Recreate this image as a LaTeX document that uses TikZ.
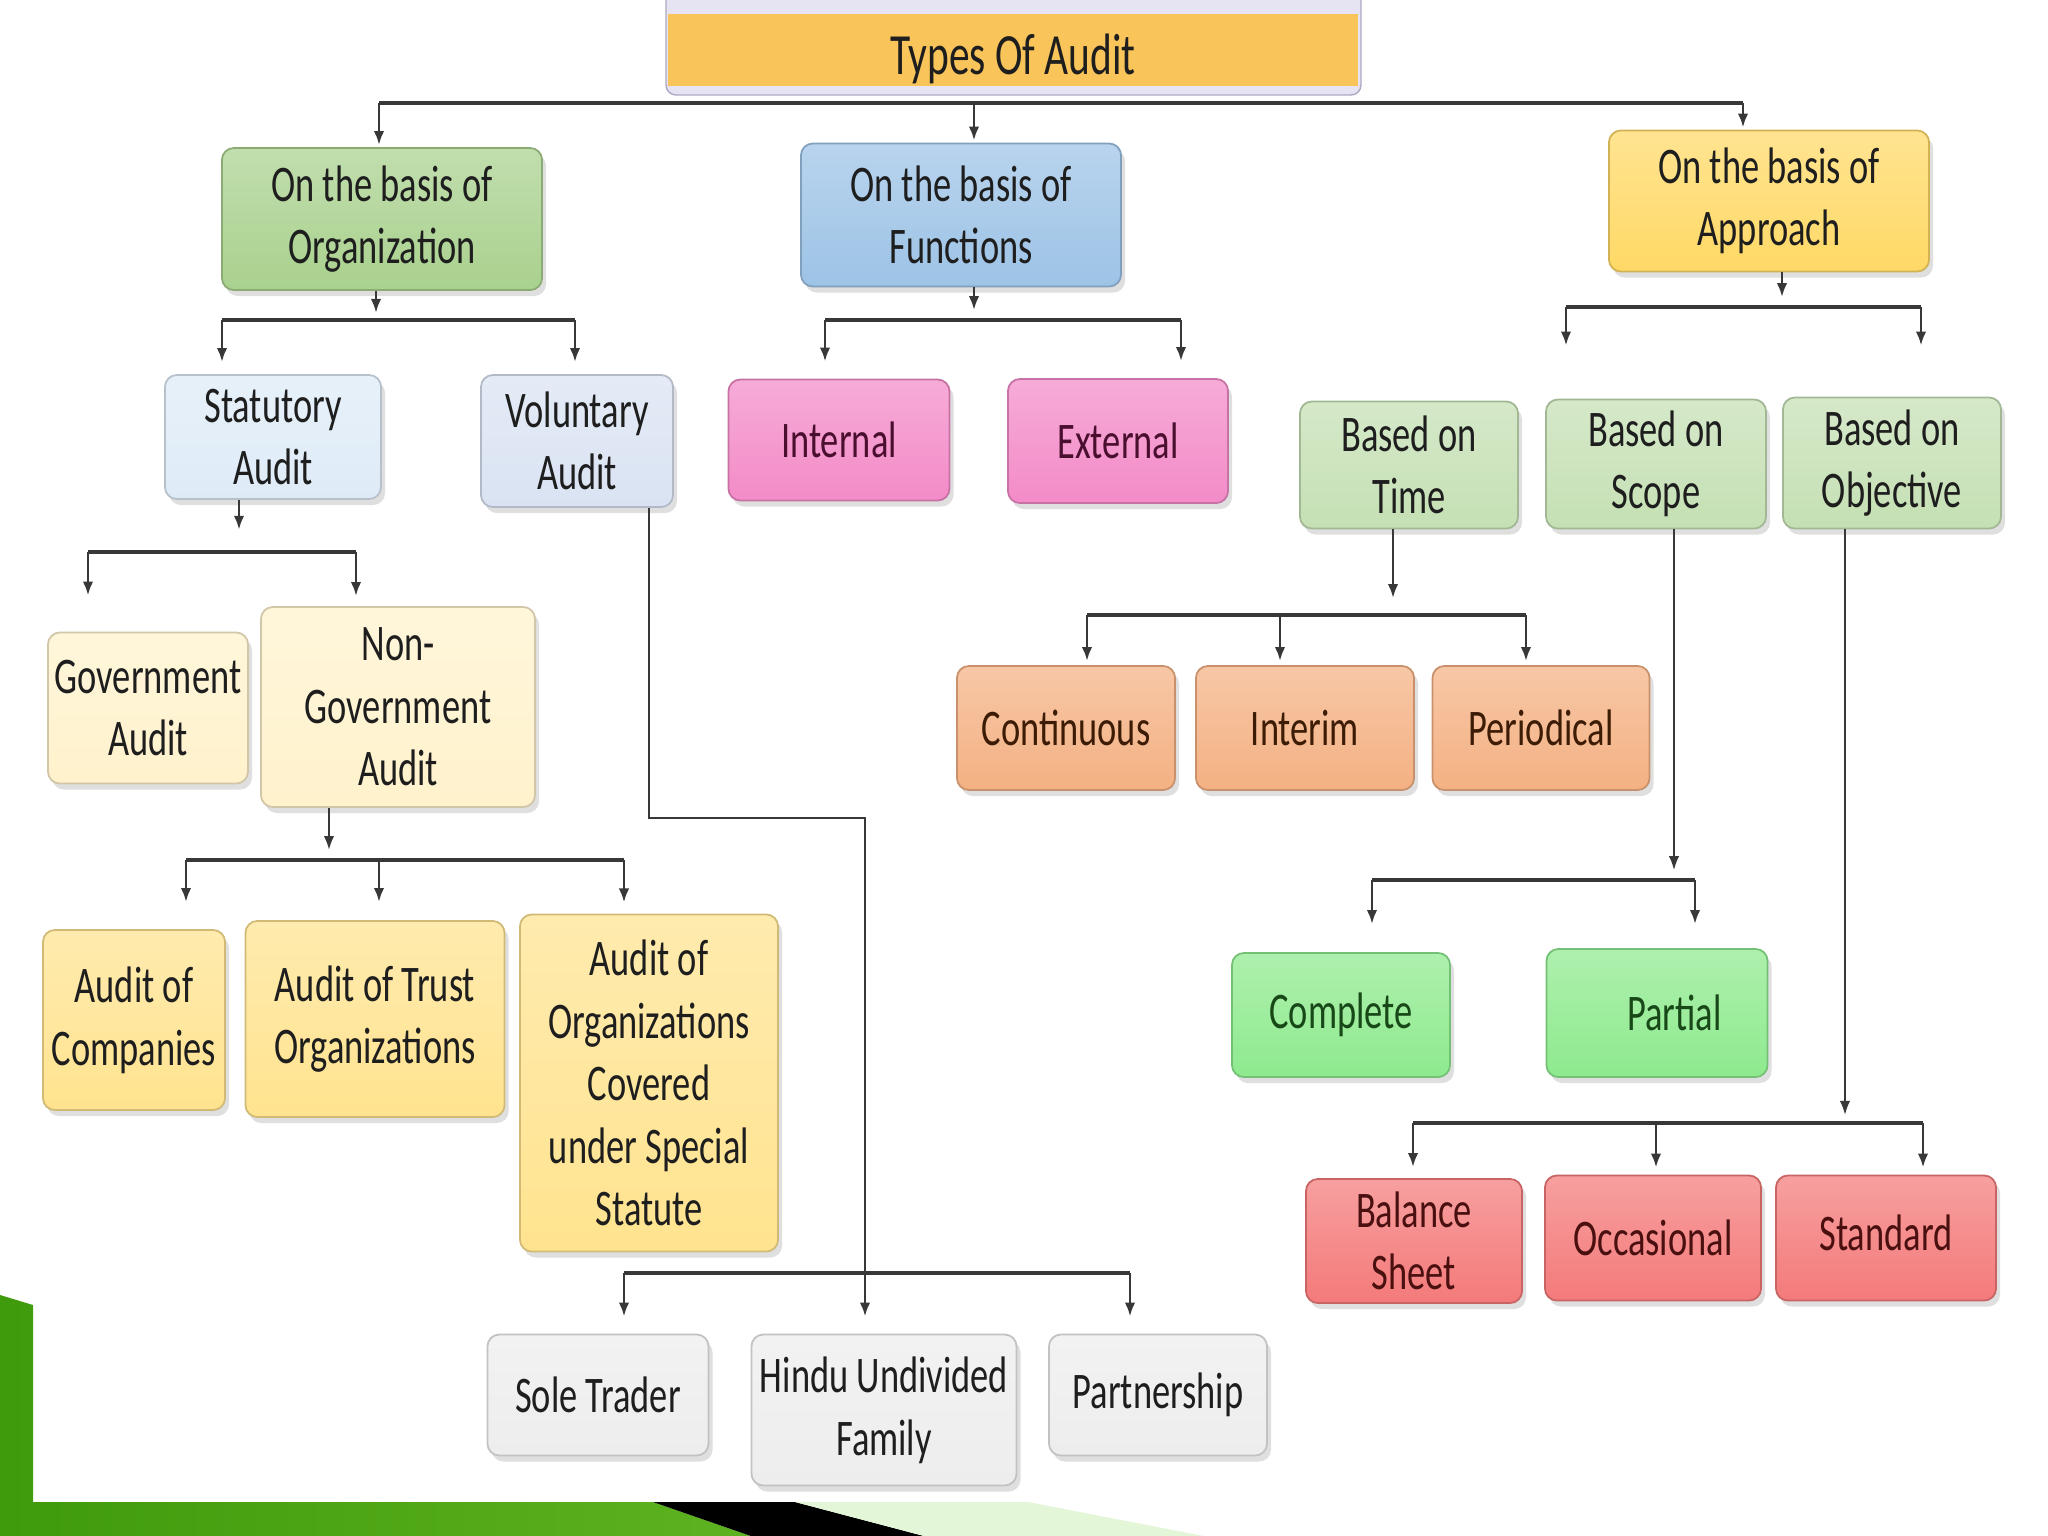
\documentclass[tikz,border=0pt]{standalone}
\usepackage{fontspec}
\newfontfamily\boxfont[FakeStretch=0.71]{Carlito}
\usetikzlibrary{arrows.meta,calc,shadows}
\definecolor{txt}{HTML}{1E1E1E}
\definecolor{lnk}{HTML}{383838}
\definecolor{titc}{HTML}{F9C55B}
\definecolor{lav}{HTML}{E6E4F3}
\definecolor{lavd}{HTML}{ACA9C4}
\definecolor{orgc}{HTML}{A9D18E}
\definecolor{funcc}{HTML}{9DC3E6}
\definecolor{apprc}{HTML}{FFD966}
\definecolor{statc}{HTML}{DEEBF7}
\definecolor{volc}{HTML}{DAE3F3}
\definecolor{pinkc}{HTML}{F38BC8}
\definecolor{basec}{HTML}{C5E0B4}
\definecolor{orngc}{HTML}{F4B183}
\definecolor{brgc}{HTML}{8EEA8E}
\definecolor{redc}{HTML}{F47A7A}
\definecolor{creamc}{HTML}{FFF2CC}
\definecolor{yelc}{HTML}{FFE38F}
\definecolor{grayc}{HTML}{EDEDED}
\definecolor{pinkt}{HTML}{4A0F2E}
\definecolor{redt}{HTML}{4A1010}
\definecolor{orngt}{HTML}{3D1C06}
\definecolor{brgt}{HTML}{184818}
\definecolor{grnA}{HTML}{3F9A0C}
\definecolor{grnB}{HTML}{8FEA5E}
\definecolor{grnC}{HTML}{5DB31F}
\definecolor{palegrn}{HTML}{E3F6D8}

\tikzset{
  box/.style={rounded corners=1.2mm, align=center, inner sep=0pt,
    font=\boxfont\fontsize{14.6}{17.8}\selectfont,
    drop shadow={opacity=0.25, shadow xshift=0.4mm, shadow yshift=-0.6mm}},
  kind/.style 2 args={box, top color=#1!72!white, bottom color=#1,
    draw=#1!82!black, line width=0.5pt, text=#2},
  sz/.style 2 args={minimum width=#1cm, minimum height=#2cm},
  link/.style={draw=lnk, line width=0.8pt, -{Latex[length=4pt,width=3pt]}},
  wire/.style={draw=lnk, line width=0.6pt},
  bus/.style={draw=lnk, line width=1.2pt},
}

\begin{document}
\begin{tikzpicture}[x=0.01cm, y=-0.01cm]
  \useasboundingbox (0,0) rectangle (2048,1536);
  \fill[white] (0,0) rectangle (2048,1536);

  % slide frame at the bottom
  \shade[left color=grnA, middle color=grnB, right color=grnC]
    (0,1295) -- (33,1305) -- (33,1502) -- (653,1502) -- (751,1536) -- (0,1536) -- cycle;
  \fill[black] (653,1502) -- (795,1502) -- (924,1536) -- (751,1536) -- cycle;
  \fill[palegrn] (795,1502) -- (1028,1502) -- (1204,1536) -- (924,1536) -- cycle;

  % title
  \filldraw[fill=lav, draw=lavd, rounded corners=1mm] (666,-12) rectangle (1361,95);
  \node[fill=titc, minimum width=6.89cm, minimum height=0.72cm, inner sep=0pt, text=txt,
    font=\boxfont\fontsize{16.6}{20}\selectfont] (title) at (1013,50)
    {\raisebox{-2.6pt}[\height][\depth]{Types Of Audit}};

  % first level
  \node[kind={orgc}{txt}, sz={3.2}{1.42}] (org) at (382,219) {On the basis of\\Organization};
  \node[kind={funcc}{txt}, sz={3.2}{1.43}] (func) at (961,215) {On the basis of\\Functions};
  \node[kind={apprc}{txt}, sz={3.2}{1.41}] (appr) at (1769,201) {On the basis of\\Approach};

  % second level
  \node[kind={statc}{txt}, sz={2.16}{1.24}] (stat) at (273,437) {Statutory\\Audit};
  \node[kind={volc}{txt}, sz={1.92}{1.32}] (vol) at (577,441) {Voluntary\\Audit};
  \node[kind={pinkc}{pinkt}, sz={2.21}{1.21}] (int) at (839,440) {Internal};
  \node[kind={pinkc}{pinkt}, sz={2.2}{1.24}] (ext) at (1118,441) {External};
  \node[kind={basec}{txt}, sz={2.18}{1.27}] (time) at (1409,465) {Based on\\Time};
  \node[kind={basec}{txt}, sz={2.2}{1.29}] (scope) at (1656,464) {Based on\\Scope};
  \node[kind={basec}{txt}, sz={2.18}{1.31}] (obj) at (1892,463) {Based on\\Objective};

  % approach branches
  \node[kind={orngc}{orngt}, sz={2.18}{1.24}] (cont) at (1066,728) {Continuous};
  \node[kind={orngc}{orngt}, sz={2.18}{1.24}] (inter) at (1305,728) {Interim};
  \node[kind={orngc}{orngt}, sz={2.17}{1.24}] (peri) at (1541,728) {Periodical};
  \node[kind={brgc}{brgt}, sz={2.18}{1.24}] (comp) at (1341,1015) {Complete};
  \node[kind={brgc}{brgt}, sz={2.21}{1.28}] (part) at (1657,1013) {\hspace{0.35cm}Partial};
  \node[kind={redc}{redt}, sz={2.16}{1.24}] (bal) at (1414,1241) {Balance\\Sheet};
  \node[kind={redc}{redt}, sz={2.16}{1.25}] (occ) at (1653,1238) {Occasional};
  \node[kind={redc}{redt}, sz={2.2}{1.25}] (std) at (1886,1238)
    {\raisebox{1.6pt}[\height][\depth]{Standard}};

  % organization branches
  \node[kind={creamc}{txt}, sz={2.0}{1.51}] (gov) at (148,708) {Government\\Audit};
  \node[kind={creamc}{txt}, sz={2.74}{2.0}] (ngov) at (398,707) {Non-\\Government\\Audit};
  \node[kind={yelc}{txt}, sz={1.82}{1.8}] (coms) at (134,1020) {Audit of\\Companies};
  \node[kind={yelc}{txt}, sz={2.59}{1.96}] (trust) at (375,1019) {Audit of Trust\\Organizations};
  \node[kind={yelc}{txt}, sz={2.58}{3.37}] (spec) at (649,1083) {Audit of\\Organizations\\Covered\\under Special\\Statute};
  \node[kind={grayc}{txt}, sz={2.21}{1.21}] (sole) at (598,1395) {Sole Trader};
  \node[kind={grayc}{txt}, sz={2.65}{1.51}] (huf) at (884,1410) {Hindu Undivided\\Family};
  \node[kind={grayc}{txt}, sz={2.18}{1.21}] (partn) at (1158,1395) {Partnership};

  % title -> first level
  \coordinate (bA) at (0,103);
  \foreach \n/\dx/\g [count=\i] in {org/-3/2, func/13/2, appr/-26/2}
    \coordinate (tA\i) at ($(\n.north)+(\dx,-\g)$);
  \draw[bus] (tA1 |- bA) -- (tA3 |- bA);
  \foreach \i in {1,2,3} \draw[link] (tA\i |- bA) -- (tA\i);

  % organization -> statutory, voluntary
  \coordinate (bB) at (0,320);
  \coordinate (sB) at ($(org.south)+(-6,0)$);
  \draw[link, shorten >=2pt] (sB) -- (sB |- bB);
  \foreach \n/\dx/\g [count=\i] in {stat/-51/12, vol/-2/12}
    \coordinate (tB\i) at ($(\n.north)+(\dx,-\g)$);
  \draw[bus] (tB1 |- bB) -- (tB2 |- bB);
  \foreach \i in {1,2} \draw[link] (tB\i |- bB) -- (tB\i);

  % functions -> internal, external
  \coordinate (bC) at (0,320);
  \coordinate (sC) at ($(func.south)+(13,0)$);
  \draw[link, shorten >=2.8pt] (sC) -- (sC |- bC);
  \foreach \n/\dx/\g [count=\i] in {int/-14/17, ext/63/17}
    \coordinate (tC\i) at ($(\n.north)+(\dx,-\g)$);
  \draw[bus] (tC1 |- bC) -- (tC2 |- bC);
  \foreach \i in {1,2} \draw[link] (tC\i |- bC) -- (tC\i);

  % approach -> based on ...
  \coordinate (bD) at (0,307);
  \coordinate (sD) at ($(appr.south)+(13,0)$);
  \draw[link, shorten >=2.8pt] (sD) -- (sD |- bD);
  \foreach \n/\dx/\g [count=\i] in {scope/-90/53, obj/29/51}
    \coordinate (tD\i) at ($(\n.north)+(\dx,-\g)$);
  \draw[bus] (tD1 |- bD) -- (tD2 |- bD);
  \foreach \i in {1,2} \draw[link] (tD\i |- bD) -- (tD\i);

  % statutory -> government, non-government
  \coordinate (bE) at (0,552);
  \coordinate (sE) at ($(stat.south)+(-34,0)$);
  \draw[link, shorten >=6.3pt] (sE) -- (sE |- bE);
  \foreach \n/\dx/\g [count=\i] in {gov/-60/36, ngov/-42/10}
    \coordinate (tE\i) at ($(\n.north)+(\dx,-\g)$);
  \draw[bus] (tE1 |- bE) -- (tE2 |- bE);
  \foreach \i in {1,2} \draw[link] (tE\i |- bE) -- (tE\i);

  % non-government -> audits of ...
  \coordinate (bF) at (0,860);
  \coordinate (sF) at ($(ngov.south)+(-69,0)$);
  \draw[link, shorten >=2.8pt] (sF) -- (sF |- bF);
  \foreach \n/\dx/\g [count=\i] in {coms/52/27, trust/4/18, spec/-25/11}
    \coordinate (tF\i) at ($(\n.north)+(\dx,-\g)$);
  \draw[bus] (tF1 |- bF) -- (tF3 |- bF);
  \foreach \i in {1,2,3} \draw[link] (tF\i |- bF) -- (tF\i);

  % voluntary -> sole trader, HUF, partnership
  \coordinate (bG) at (0,1273);
  \foreach \n/\dx/\g [count=\i] in {sole/26/17, huf/-19/17, partn/-28/17}
    \coordinate (tG\i) at ($(\n.north)+(\dx,-\g)$);
  \coordinate (sG) at ($(vol.south)+(72,0)$);
  \draw[wire] (sG) -- ++(0,310) -| (tG2 |- bG);
  \draw[bus] (tG1 |- bG) -- (tG3 |- bG);
  \foreach \i in {1,2,3} \draw[link] (tG\i |- bG) -- (tG\i);

  % time -> continuous, interim, periodical
  \coordinate (bH) at (0,615);
  \coordinate (sH) at ($(time.south)+(-16,0)$);
  \draw[link, shorten >=4.8pt] (sH) -- (sH |- bH);
  \foreach \n/\dx/\g [count=\i] in {cont/21/4, inter/-25/4, peri/-15/4}
    \coordinate (tH\i) at ($(\n.north)+(\dx,-\g)$);
  \draw[bus] (tH1 |- bH) -- (tH3 |- bH);
  \foreach \i in {1,2,3} \draw[link] (tH\i |- bH) -- (tH\i);

  % scope -> complete, partial
  \coordinate (bI) at (0,880);
  \coordinate (sI) at ($(scope.south)+(18,0)$);
  \draw[link, line width=0.6pt, shorten >=2.8pt] (sI) -- (sI |- bI);
  \foreach \n/\dx/\g [count=\i] in {comp/31/28, part/38/24}
    \coordinate (tI\i) at ($(\n.north)+(\dx,-\g)$);
  \draw[bus] (tI1 |- bI) -- (tI2 |- bI);
  \foreach \i in {1,2} \draw[link] (tI\i |- bI) -- (tI\i);

  % objective -> balance sheet, occasional, standard
  \coordinate (bJ) at (0,1123);
  \coordinate (sJ) at ($(obj.south)+(-47,0)$);
  \draw[link, line width=0.6pt, shorten >=2.3pt] (sJ) -- (sJ |- bJ);
  \foreach \n/\dx/\g [count=\i] in {bal/-1/11, occ/3/7, std/37/7}
    \coordinate (tJ\i) at ($(\n.north)+(\dx,-\g)$);
  \draw[bus] (tJ1 |- bJ) -- (tJ3 |- bJ);
  \foreach \i in {1,2,3} \draw[link] (tJ\i |- bJ) -- (tJ\i);
\end{tikzpicture}
\end{document}
